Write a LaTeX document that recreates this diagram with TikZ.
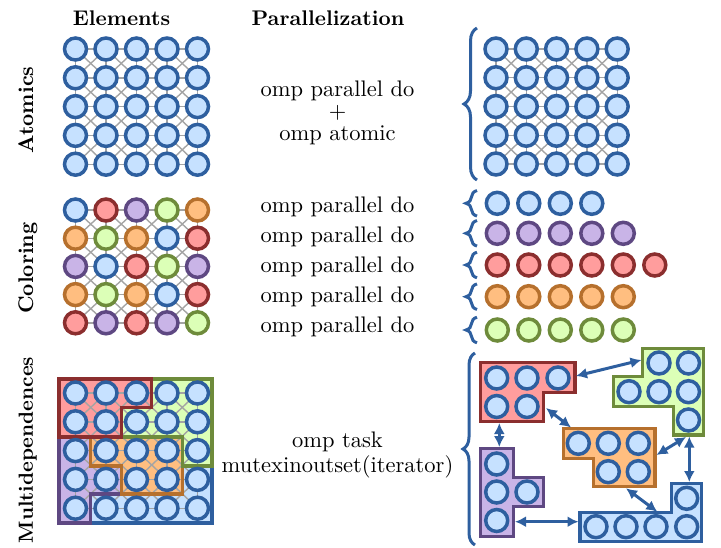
\documentclass[tikz,border=0pt]{standalone}
\usetikzlibrary{arrows.meta,decorations.pathreplacing}
\definecolor{bS}{HTML}{2E5F9F}\definecolor{bF}{HTML}{C6E1FF}
\definecolor{rS}{HTML}{8B2E2E}\definecolor{rF}{HTML}{FF9D9D}
\definecolor{pS}{HTML}{5E4882}\definecolor{pF}{HTML}{C9B4E7}
\definecolor{gS}{HTML}{6E8B3B}\definecolor{gF}{HTML}{DCFFB7}
\definecolor{oS}{HTML}{B6702D}\definecolor{oF}{HTML}{FFBE80}
\definecolor{gridC}{HTML}{A4A4A4}
\tikzset{
  el/.style={circle,minimum size=22pt,inner sep=0pt,line width=3.5pt},
  elB/.style={el,draw=bS,fill=bF},
  elR/.style={el,draw=rS,fill=rF},
  elP/.style={el,draw=pS,fill=pF},
  elG/.style={el,draw=gS,fill=gF},
  elO/.style={el,draw=oS,fill=oF},
  gl/.style={draw=gridC,line width=1.4pt},
  pcB/.style={draw=bS,fill=bF,line width=3.2pt,line join=miter},
  pcR/.style={draw=rS,fill=rF,line width=3.2pt,line join=miter},
  pcP/.style={draw=pS,fill=pF,line width=3.2pt,line join=miter},
  pcG/.style={draw=gS,fill=gF,line width=3.2pt,line join=miter},
  pcO/.style={draw=oS,fill=oF,line width=3.2pt,line join=miter},
  dep/.style={draw=bS,line width=3pt,{Latex[length=11pt,width=11pt]}-{Latex[length=11pt,width=11pt]}},
  brc/.style={draw=bS,line width=3pt,decorate,decoration={brace,amplitude=#1}},
  brc/.default=12,
  hd/.style={font=\normalsize\bfseries,scale=2.12,inner sep=0pt},
  tx/.style={font=\normalsize,scale=2.25,inner sep=0pt,anchor=base},
}
\newcommand\mkgrid[5]{%
  \foreach \i in {0,...,4}{\foreach \j in {0,...,4}{%
    \coordinate (#1-\i-\j) at ({#2+#4*\j},{#3+#5*\i});}}%
  \foreach \i in {0,...,4}{\foreach \j [evaluate=\j as \jj using int(\j+1)] in {0,...,3}{%
    \draw[gl] (#1-\i-\j) -- (#1-\i-\jj); \draw[gl] (#1-\j-\i) -- (#1-\jj-\i);}}%
  \foreach \i [evaluate=\i as \ii using int(\i+1)] in {0,...,3}{\foreach \j [evaluate=\j as \jj using int(\j+1)] in {0,...,3}{%
    \draw[gl] (#1-\i-\j) -- (#1-\ii-\jj); \draw[gl] (#1-\ii-\j) -- (#1-\i-\jj);}}%
}
\begin{document}
\begin{tikzpicture}[x=1pt,y=-1pt]
\useasboundingbox (0,0) rectangle (721,547);
% headings
\node[hd,anchor=base] (hEl) at (121.5,25.7) {Elements};
\node[hd,anchor=base] (hPa) at (328,25.7) {Parallelization};
\node[hd,anchor=base,rotate=90] (lAt) at (33,110) {Atomics};
\node[hd,anchor=base,rotate=90] (lCo) at (33,268) {Coloring};
\node[hd,anchor=base,rotate=90,scale=0.965] (lMu) at (33,450) {Multidependences};
% middle texts
\node[tx] (t1) at (337.5,96.7) {omp parallel do};
\node[tx] (t2) at (337.5,118.6) {+};
\node[tx] (t3) at (337.5,140) {omp atomic};
\foreach \k in {0,...,4}{\node[tx] (tc\k) at (337.5,{212+30.2*\k}) {omp parallel do};}
\node[tx] (t4) at (337.5,447) {omp task};
\node[tx] (t5) at (337.5,472) {mutexinoutset(iterator)};
% ---------- Atomics left
\mkgrid{a}{75.5}{49}{30.5}{28.8}
\foreach \i in {0,...,4}{\foreach \j in {0,...,4}{\node[elB] (A-\i-\j) at (a-\i-\j) {};}}
% ---------- Atomics right
\mkgrid{ar}{496}{49}{30.3}{28.75}
\foreach \i in {0,...,4}{\foreach \j in {0,...,4}{\node[elB] (AR-\i-\j) at (ar-\i-\j) {};}}
\draw[brc=13] (477,180) -- (477,28);
% ---------- Coloring left
\mkgrid{c}{75.5}{210}{30.5}{28.2}
\foreach \cc [count=\k from 0] in {B,R,P,G,O,O,G,O,B,R,P,B,R,G,P,O,G,O,B,R,R,P,R,P,G}{%
  \pgfmathtruncatemacro\ri{floor(\k/5)}\pgfmathtruncatemacro\rj{mod(\k,5)}%
  \node[el\cc] (C-\ri-\rj) at (c-\ri-\rj) {};}
% ---------- Coloring right
\foreach \cc/\n/\yy [count=\r] in {B/4/203.3,P/5/233.3,R/6/265,O/5/296.7,G/5/330}{%
  \foreach \j in {1,...,\n}{\node[el\cc] (K-\r-\j) at ({497.3+31.5*(\j-1)},\yy) {};}
  \draw[brc=11] (477,{\yy+12.8}) -- (477,{\yy-12.8});}
% ---------- Multidependences left
\fill[rF] (59,379) -- (151.75,379) -- (151.75,407.5) -- (121.25,407.5) -- (121.25,437) -- (59,437) -- cycle;
\fill[gF] (151.75,379) -- (212,379) -- (212,466) -- (182.25,466) -- (182.25,437) -- (121.25,437) -- (121.25,407.5) -- (151.75,407.5) -- cycle;
\fill[oF] (90.75,437) -- (182.25,437) -- (182.25,494) -- (121.25,494) -- (121.25,466) -- (90.75,466) -- cycle;
\fill[pF] (59,437) -- (90.75,437) -- (90.75,466) -- (121.25,466) -- (121.25,494) -- (90.75,494) -- (90.75,523) -- (59,523) -- cycle;
\fill[bF] (90.75,523) -- (90.75,494) -- (182.25,494) -- (182.25,466) -- (212,466) -- (212,523) -- cycle;
\mkgrid{m}{75.5}{393}{30.5}{28.8}
\draw[pcB,fill=none] (90.75,523) -- (90.75,494) -- (182.25,494) -- (182.25,466) -- (212,466) -- (212,523) -- cycle;
\draw[pcP,fill=none] (59,437) -- (90.75,437) -- (90.75,466) -- (121.25,466) -- (121.25,494) -- (90.75,494) -- (90.75,523) -- (59,523) -- cycle;
\draw[pcO,fill=none] (90.75,437) -- (182.25,437) -- (182.25,494) -- (121.25,494) -- (121.25,466) -- (90.75,466) -- cycle;
\draw[pcG,fill=none] (151.75,379) -- (212,379) -- (212,466) -- (182.25,466) -- (182.25,437) -- (121.25,437) -- (121.25,407.5) -- (151.75,407.5) -- cycle;
\draw[pcR,fill=none] (59,379) -- (151.75,379) -- (151.75,407.5) -- (121.25,407.5) -- (121.25,437) -- (59,437) -- cycle;
\foreach \i in {0,...,4}{\foreach \j in {0,...,4}{\node[elB] (M-\i-\j) at (m-\i-\j) {};}}
% ---------- Multidependences right
\draw[brc=12] (475,545) -- (475,353);
\draw[pcR] (480.7,362.7) -- (575,362.7) -- (575,392.7) -- (543.3,392.7) -- (543.3,421.7) -- (480.7,421.7) -- cycle;
\draw[pcG] (642.7,348.3) -- (703.3,348.3) -- (703.3,435) -- (673.3,435) -- (673.3,406.7) -- (613.3,406.7) -- (613.3,376.7) -- (642.7,376.7) -- cycle;
\draw[pcO] (563.3,428.3) -- (655,428.3) -- (655,486.7) -- (593.3,486.7) -- (593.3,458.3) -- (563.3,458.3) -- cycle;
\draw[pcP] (480.7,448.3) -- (513.3,448.3) -- (513.3,477.3) -- (543.3,477.3) -- (543.3,506.7) -- (513.3,506.7) -- (513.3,536.7) -- (480.7,536.7) -- cycle;
\draw[pcB] (580,512.7) -- (671.7,512.7) -- (671.7,483.3) -- (701.7,483.3) -- (701.7,541.7) -- (580,541.7) -- cycle;
\foreach \p/\x/\y in {r1/496.7/378,r2/527/378,r3/558/378,r4/496.7/406.5,r5/527/406.5,
  g1/659/363,g2/688.5/363,g3/629/391.7,g4/659/391.7,g5/688.5/391.7,g6/688.5/420,
  o1/578.3/443.3,o2/608.3/443.3,o3/638.3/443.3,o4/608.3/471.7,o5/638.3/471.7,
  p1/496.7/464,p2/496.7/492,p3/527/492,p4/496.7/520.5,
  b1/686.7/498.3,b2/596/526.7,b3/626/526.7,b4/656/526.7,b5/686.7/526.7}{%
  \node[elB] (N\p) at (\x,\y) {};}
% arrow end points
\coordinate (e1a) at (576,376);   \coordinate (e1b) at (641.5,360);
\coordinate (e2a) at (546,408);   \coordinate (e2b) at (571,427.5);
\coordinate (e3a) at (499.3,423); \coordinate (e3b) at (499.3,447);
\coordinate (e4a) at (689.3,436.5); \coordinate (e4b) at (689.3,482);
\coordinate (e5a) at (686,437);   \coordinate (e5b) at (656.5,455);
\coordinate (e6a) at (626,488.3); \coordinate (e6b) at (657.3,511.7);
\coordinate (e7a) at (515,521.7); \coordinate (e7b) at (578.5,521.7);
\foreach \k in {1,...,7}{\draw[dep] (e\k a) -- (e\k b);}
\end{tikzpicture}
\end{document}
